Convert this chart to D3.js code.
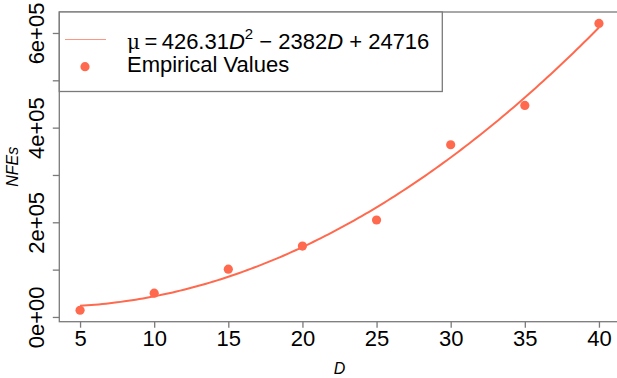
<!DOCTYPE html>
<html>
<head>
<meta charset="utf-8">
<script src="https://cdn.jsdelivr.net/npm/d3@7"></script>
<style>
  html, body { margin: 0; padding: 0; background: #fff; }
  svg { display: block; font-family: "Liberation Sans", Arial, sans-serif; }
</style>
</head>
<body>
<svg id="chart" width="617" height="378"></svg>
<script>
// Problem dimension and observed number of function evaluations
const dims = [5, 10, 15, 20, 25, 30, 35, 40];
const nfes = [14200, 50200, 101000, 149800, 204900, 363800, 447000, 620100];

// Fitted quadratic model: mu = a*D^2 + b*D + c
const coefA = 426.31;
const coefB = -2382;
const coefC = 24716;

const xTicks = [5, 10, 15, 20, 25, 30, 35, 40];
const yTicks = [0, 100000, 200000, 300000, 400000, 500000, 600000];
const yTickLabels = ["0e+00", "", "2e+05", "", "4e+05", "", "6e+05"];

const red = "#ff6a4f";
const frame = "#7a7a7a";

const svg = d3.select("#chart");

const plot = { left: 59.3, right: 619.7, top: 12, bottom: 321.7 };

// Axis ranges padded by 4% on each side
const xMin = d3.min(dims), xMax = d3.max(dims), xPad = (xMax - xMin) * 0.04;
const yMin = d3.min(nfes), yMax = d3.max(nfes), yPad = (yMax - yMin) * 0.04;

const x = d3.scaleLinear().domain([xMin - xPad, xMax + xPad]).range([plot.left, plot.right]);
const y = d3.scaleLinear().domain([yMin - yPad, yMax + yPad]).range([plot.bottom, plot.top]);

// Fitted curve
const fit = d => coefA * d * d + coefB * d + coefC;
const curveD = d3.range(xMin, xMax + 0.001, 0.25);
svg.append("path")
  .datum(curveD)
  .attr("fill", "none")
  .attr("stroke", red)
  .attr("stroke-width", 2)
  .attr("d", d3.line().x(d => x(d)).y(d => y(fit(d))));

// Empirical points
svg.append("g").selectAll("circle")
  .data(dims)
  .join("circle")
  .attr("cx", d => x(d))
  .attr("cy", (d, i) => y(nfes[i]))
  .attr("r", 4.6)
  .attr("fill", red);

// Plot frame
svg.append("rect")
  .attr("x", plot.left).attr("y", plot.top)
  .attr("width", plot.right - plot.left).attr("height", plot.bottom - plot.top)
  .attr("fill", "none").attr("stroke", frame).attr("stroke-width", 1.3);

// X axis
const xAxis = d3.axisBottom(x).tickValues(xTicks).tickSize(6).tickPadding(4).tickFormat(d3.format("d"));
const gx = svg.append("g").attr("transform", `translate(0,${plot.bottom})`).call(xAxis);
gx.select(".domain").remove();
gx.selectAll(".tick line").attr("stroke", frame).attr("stroke-width", 1.3);
gx.selectAll(".tick text")
  .attr("y", 24).attr("dy", 0)
  .attr("font-size", 22).attr("fill", "#000")
  .attr("font-family", "Liberation Sans, Arial, sans-serif");

// Y axis
const yAxis = d3.axisLeft(y).tickValues(yTicks).tickSize(6.5)
  .tickFormat((d, i) => yTickLabels[i]);
const gy = svg.append("g").attr("transform", `translate(${plot.left},0)`).call(yAxis);
gy.select(".domain").remove();
gy.selectAll(".tick line").attr("stroke", frame).attr("stroke-width", 1.3);
gy.selectAll(".tick text")
  .attr("x", null).attr("dy", 0)
  .attr("transform", "translate(-15.5,0) rotate(-90)")
  .attr("text-anchor", "middle")
  .attr("font-size", 22).attr("fill", "#000")
  .attr("font-family", "Liberation Sans, Arial, sans-serif");

// Axis titles
svg.append("text")
  .attr("x", (plot.left + plot.right) / 2).attr("y", 374)
  .attr("text-anchor", "middle")
  .attr("font-size", 16).attr("font-style", "italic")
  .text("D");

svg.append("text")
  .attr("transform", `translate(18,${(plot.top + plot.bottom) / 2}) rotate(-90)`)
  .attr("text-anchor", "middle")
  .attr("font-size", 16).attr("font-style", "italic")
  .text("NFEs");

// Legend
const lg = svg.append("g");
lg.append("rect")
  .attr("x", plot.left).attr("y", plot.top)
  .attr("width", 383).attr("height", 79.5)
  .attr("fill", "#fff").attr("stroke", frame).attr("stroke-width", 1.3);
lg.append("line")
  .attr("x1", 65).attr("x2", 106).attr("y1", 39.5).attr("y2", 39.5)
  .attr("stroke", red).attr("stroke-width", 1).attr("opacity", 0.7);
lg.append("circle").attr("cx", 85).attr("cy", 66.7).attr("r", 4.6).attr("fill", red);

const eq = lg.append("text").attr("x", 127).attr("y", 48.5).attr("font-size", 22).attr("fill", "#000");
eq.append("tspan").attr("font-family", "DejaVu Serif, serif").attr("font-size", 20).text("\u03bc");
eq.append("tspan").text("\u2009=\u2009426.31");
eq.append("tspan").attr("font-style", "italic").text("D");
eq.append("tspan").attr("font-size", 15).attr("dy", -10).text("2");
eq.append("tspan").attr("dy", 10).text(" \u2212 2382");
eq.append("tspan").attr("font-style", "italic").text("D");
eq.append("tspan").text(" + 24716");

lg.append("text").attr("x", 127).attr("y", 72).attr("font-size", 22).attr("fill", "#000")
  .text("Empirical Values");
</script>
</body>
</html>
